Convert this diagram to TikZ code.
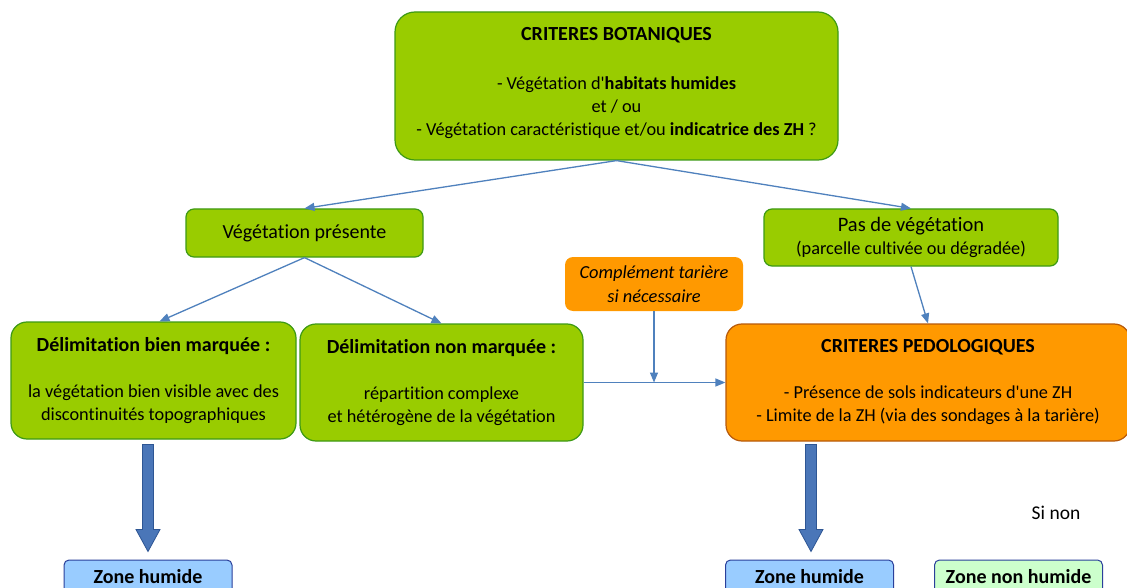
\documentclass[tikz,border=0pt]{standalone}
\usepackage{fontspec}
\setmainfont{Carlito}[Ligatures={NoCommon}]
\usetikzlibrary{arrows.meta}
\definecolor{grn}{HTML}{99CC00}
\definecolor{grnb}{HTML}{3D9A14}
\definecolor{org}{HTML}{FF9900}
\definecolor{orgb}{HTML}{B85A0A}
\definecolor{arr}{HTML}{4F81BD}
\definecolor{fatf}{HTML}{4A76B8}
\definecolor{fatb}{HTML}{2E5694}
\definecolor{zhb}{HTML}{99CCFF}
\definecolor{zhbd}{HTML}{2A3F9A}
\definecolor{znh}{HTML}{CCFFCC}
\newcommand\fs[2]{\fontsize{#1}{#2}\selectfont}
\newcommand\apo{\textquotesingle}
\newcommand\fatarrow[1]{\draw[fat] #1 -- ++(12,-22) -- ++(-6.5,0) -- ++(0,-85) -- ++(-11,0) -- ++(0,85) -- ++(-6.5,0) -- cycle;}
\begin{document}
\begin{tikzpicture}[x=1pt,y=-1pt,
  gbox/.style={draw=grnb, fill=grn, line width=1.2pt, rounded corners=12pt, inner sep=0pt, align=center, font=\fs{18.3}{23}},
  obox/.style={draw=orgb, fill=org, line width=1.2pt, rounded corners=14pt, inner sep=0pt, align=center, font=\fs{18.3}{23}},
  cbox/.style={fill=org, rounded corners=8pt, inner sep=0pt, align=center, font=\fs{18.4}{24}\itshape},
  zbox/.style={draw=zhbd, fill=zhb, line width=1pt, rounded corners=5pt, inner sep=0pt, minimum width=168pt, minimum height=34pt, font=\fs{20}{22}\bfseries},
  conn/.style={draw=arr, line width=1.3pt, -{Triangle[length=10pt,width=8pt]}},
  fat/.style={draw=fatb, fill=fatf, line width=0.8pt}
]
\useasboundingbox (0,0) rectangle (1127,588);
\clip (0,0) rectangle (1127,588);
\fill[white] (0,0) rectangle (1127,588);

\node[gbox, rounded corners=20pt, minimum width=443pt, minimum height=148pt, text depth=9pt] (top) at (616.5,86)
  {{\fs{20}{23}\bfseries CRITERES BOTANIQUES}\\[26pt]
   - Végétation d\apo\textbf{habitats humides}\\
   et / ou\\
   - Végétation caractéristique et/ou \textbf{indicatrice des ZH} ?};

\node[gbox, rounded corners=8pt, minimum width=237pt, minimum height=48pt, font=\fs{20}{23}] (vp) at (304.5,233) {Végétation présente};

\node[gbox, rounded corners=8pt, minimum width=294pt, minimum height=57pt] (vn) at (911,237.5)
  {{\fs{20.5}{23}Pas de végétation}\\(parcelle cultivée ou dégradée)};

\node[cbox, minimum width=178pt, minimum height=54pt] (comp) at (654,284) {Complément tarière\\si nécessaire};

\node[gbox, rounded corners=16pt, minimum width=285pt, minimum height=117pt] (db) at (153.5,380.5)
  {{\fs{20}{23}\bfseries Délimitation bien marquée :}\\[23pt]
   la végétation bien visible avec des\\discontinuités topographiques};

\node[gbox, rounded corners=16pt, minimum width=283pt, minimum height=117pt] (dn) at (441.5,382.5)
  {{\fs{20}{23}\bfseries Délimitation non marquée :}\\[23pt]
   répartition complexe\\et hétérogène de la végétation};

\node[obox, rounded corners=16pt, minimum width=404pt, minimum height=117pt] (ped) at (928,382.5)
  {{\fs{20}{23}\bfseries CRITERES PEDOLOGIQUES}\\[23pt]
   - Présence de sols indicateurs d\apo une ZH\\
   - Limite de la ZH (via des sondages à la tarière)};

\node[zbox] (zh1) at (148,577) {Zone humide};
\node[zbox] (zh2) at (809.5,577) {Zone humide};
\node[zbox, fill=znh] (znh) at (1018.5,577) {Zone non humide};
\node[font=\fs{19.5}{22}] (sinon) at (1056,513) {Si non};

\draw[conn] (top.south) -- (vp.north);
\draw[conn] (top.south) -- (vn.north);
\draw[conn] (vp.south) -- ([xshift=6pt]db.north);
\draw[conn] (vp.south) -- (dn.north);
\draw[conn] (vn.south) -- (ped.north);
\draw[conn] (dn.east) -- (ped.west);
\coordinate (j) at (comp.south |- dn.east);
\draw[conn] (comp.south) -- (j);

\fatarrow{([yshift=8pt]zh1.north)}
\fatarrow{([xshift=1.5pt,yshift=8pt]zh2.north)}
\end{tikzpicture}
\end{document}
